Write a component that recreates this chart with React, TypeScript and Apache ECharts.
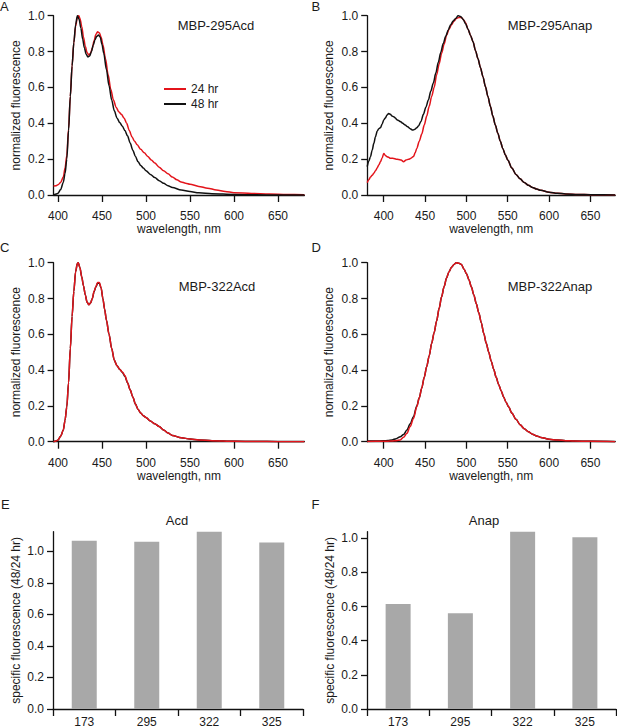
import React, { useEffect, useRef } from "react";
import * as echarts from "echarts";

const FONT = "'Liberation Sans', Arial, Helvetica, sans-serif";
const RED = "#e3141b";
const BLACK = "#111111";
const BAR = "#a8a8a8";
const TXT = "#1a1a1a";

const seriesNames = ["24 hr", "48 hr"];
const wavelengthTicks = [400, 450, 500, 550, 600, 650];
const fluorTicks = [0, 0.2, 0.4, 0.6, 0.8, 1.0];

// Panel A: MBP-295Acd
const wlA24 = [395,398,400,403,406,408,410,412,414,416,418,420,422,423.5,425,427,429,431,433,435,437,439,441,443,445,447,449,451,454,457,460,463,466,469,472,475,478,481,484,487,490,494,498,502,506,510,515,520,525,530,535,540,545,550,560,570,580,590,600,620,640,660,680];
const a24 = [0.05,0.052,0.057,0.07,0.1,0.15,0.22,0.37,0.55,0.72,0.85,0.94,0.99,1.0,0.985,0.94,0.88,0.83,0.795,0.78,0.79,0.82,0.86,0.895,0.91,0.905,0.88,0.84,0.76,0.67,0.59,0.53,0.49,0.465,0.45,0.43,0.4,0.36,0.325,0.3,0.28,0.255,0.235,0.215,0.195,0.178,0.155,0.135,0.118,0.1,0.085,0.073,0.066,0.06,0.048,0.038,0.028,0.02,0.013,0.009,0.005,0.003,0.002];
const wlA48 = [395,398,400,403,406,408,410,412,414,416,418,420,422,424,426,428,430,432,434,436,438,440,442,444,446,448,450,452,455,458,461,464,467,470,473,476,479,482,485,488,491,494,497,500,505,510,515,520,525,530,540,550,560,575,600,625,650,680];
const a48 = [0,0.005,0.01,0.03,0.07,0.12,0.2,0.36,0.55,0.72,0.85,0.95,1.0,0.98,0.93,0.87,0.82,0.785,0.77,0.775,0.8,0.835,0.865,0.885,0.892,0.88,0.84,0.79,0.7,0.61,0.53,0.47,0.43,0.405,0.385,0.36,0.33,0.29,0.25,0.215,0.185,0.165,0.15,0.135,0.115,0.097,0.08,0.065,0.052,0.042,0.028,0.019,0.012,0.007,0.003,0.001,0,0];

// Panel B: MBP-295Anap
const wlB24 = [380,382,384,386,388,390,392,394,396,398,400,402,404,406,408,410,412,415,418,421,424,427,430,433,436,438,440,443,446,449,452,455,458,461,464,467,470,473,476,479,482,485,488,491,494,497,499,502,505,508,511,514,517,520,523,526,529,532,535,538,541,544,547,550,555,560,565,570,575,580,585,590,600,610,620,635,650,665,680];
const b24 = [0.069,0.085,0.1,0.11,0.121,0.135,0.15,0.167,0.185,0.205,0.232,0.22,0.214,0.21,0.205,0.205,0.204,0.2,0.198,0.195,0.186,0.195,0.199,0.205,0.215,0.235,0.26,0.3,0.34,0.39,0.44,0.495,0.55,0.6,0.67,0.73,0.79,0.84,0.89,0.925,0.95,0.97,0.985,0.99,0.99,0.975,0.96,0.925,0.89,0.855,0.805,0.76,0.71,0.66,0.605,0.55,0.495,0.44,0.39,0.345,0.3,0.26,0.225,0.195,0.15,0.115,0.09,0.07,0.054,0.042,0.033,0.026,0.016,0.01,0.006,0.003,0.002,0.001,0];
const wlB48 = [380,382,384,386,388,390,392,394,396,398,400,402,404,406,408,410,412,414,416,418,420,423,426,429,432,435,437,440,442,445,448,451,454,457,460,463,466,469,472,475,478,481,484,487,490,493,496,499,502,505,508,511,514,517,520,523,526,529,532,535,538,541,544,547,550,555,560,565,570,575,580,585,590,600,610,620,635,650,665,680];
const b48 = [0.158,0.19,0.214,0.25,0.288,0.325,0.355,0.37,0.375,0.395,0.418,0.43,0.446,0.455,0.45,0.44,0.437,0.43,0.42,0.415,0.41,0.4,0.39,0.38,0.37,0.362,0.365,0.375,0.385,0.41,0.45,0.49,0.53,0.58,0.625,0.68,0.74,0.795,0.845,0.885,0.92,0.95,0.97,0.985,1.0,0.995,0.98,0.955,0.925,0.89,0.855,0.805,0.76,0.71,0.66,0.605,0.55,0.495,0.44,0.39,0.345,0.3,0.26,0.225,0.195,0.15,0.115,0.09,0.07,0.054,0.042,0.033,0.026,0.016,0.01,0.006,0.003,0.002,0.001,0];

// Panel C: MBP-322Acd
const wlC = [395,398,400,403,406,408,410,412,414,416,418,420,422,423,425,427,429,431,433,435,437,439,441,443,445,447,449,451,453,455,458,461,464,467,470,473,476,479,482,485,488,491,494,497,500,505,510,515,520,525,530,540,550,560,575,600,625,650,680];
const c24 = [0,0.004,0.01,0.03,0.065,0.12,0.195,0.33,0.52,0.7,0.84,0.95,0.995,1.0,0.97,0.92,0.87,0.82,0.78,0.765,0.775,0.8,0.84,0.866,0.89,0.89,0.86,0.8,0.74,0.68,0.6,0.52,0.455,0.425,0.405,0.39,0.37,0.33,0.29,0.25,0.21,0.18,0.16,0.145,0.135,0.115,0.1,0.085,0.065,0.048,0.035,0.022,0.015,0.01,0.006,0.002,0.001,0,0];
const c48 = [0,0.004,0.01,0.03,0.065,0.12,0.195,0.33,0.52,0.7,0.84,0.95,0.995,1.0,0.97,0.92,0.87,0.82,0.78,0.765,0.775,0.8,0.838,0.864,0.885,0.885,0.858,0.8,0.74,0.68,0.6,0.52,0.455,0.425,0.405,0.388,0.365,0.33,0.29,0.25,0.21,0.18,0.16,0.145,0.135,0.115,0.1,0.085,0.065,0.048,0.035,0.022,0.015,0.01,0.006,0.002,0.001,0,0];

// Panel D: MBP-322Anap
const wlD = [380,390,400,405,410,415,420,424,428,432,436,440,443,446,449,452,455,458,461,464,467,470,473,476,479,482,485,488,491,494,497,500,503,506,509,512,515,518,521,524,527,530,533,536,539,542,545,548,551,555,560,565,570,575,580,585,590,600,610,620,630,650,680];
const d24 = [0.001,0.002,0.003,0.003,0.004,0.006,0.01,0.025,0.047,0.085,0.13,0.195,0.245,0.3,0.36,0.42,0.48,0.55,0.61,0.675,0.745,0.81,0.865,0.915,0.95,0.975,0.99,1.0,0.997,0.99,0.965,0.94,0.905,0.865,0.82,0.77,0.72,0.665,0.605,0.55,0.5,0.45,0.405,0.36,0.32,0.285,0.25,0.22,0.195,0.16,0.125,0.095,0.072,0.055,0.042,0.032,0.024,0.014,0.009,0.006,0.004,0.002,0];
const d48 = [0.004,0.004,0.005,0.007,0.01,0.017,0.028,0.04,0.065,0.1,0.14,0.2,0.245,0.3,0.36,0.42,0.48,0.55,0.61,0.675,0.745,0.81,0.865,0.915,0.95,0.975,0.99,1.0,0.997,0.99,0.965,0.94,0.905,0.865,0.82,0.77,0.72,0.665,0.605,0.55,0.5,0.45,0.405,0.36,0.32,0.285,0.25,0.22,0.195,0.16,0.125,0.095,0.072,0.055,0.042,0.032,0.024,0.014,0.009,0.006,0.004,0.002,0];

// Panels E, F: specific fluorescence ratio (48/24 hr)
const sites = ["173", "295", "322", "325"];
const acdRatio = [1.067, 1.061, 1.125, 1.057];
const anapRatio = [0.614, 0.56, 1.038, 1.006];

const pts = (xs: number[], ys: number[]) => xs.map((x, i) => [x, ys[i]]);

const baseText = { fontFamily: FONT, color: TXT, fontSize: 12 };
const AXW = 1.3;

function lineX(gridIndex: number, min: number, max: number) {
  return {
    gridIndex, type: "value", min, max,
    axisLine: { show: true, onZero: false, lineStyle: { color: BLACK, width: AXW } },
    axisTick: { show: true, length: 7, customValues: wavelengthTicks, lineStyle: { color: BLACK, width: AXW } },
    axisLabel: { customValues: wavelengthTicks, margin: 15, ...baseText },
    splitLine: { show: false },
    name: "wavelength, nm", nameLocation: "middle", nameGap: 27,
    nameTextStyle: { ...baseText },
  };
}
function lineY(gridIndex: number) {
  return {
    gridIndex, type: "value", min: 0, max: 1, interval: 0.2,
    axisLine: { show: true, onZero: false, lineStyle: { color: BLACK, width: AXW } },
    axisTick: { show: true, length: 6, lineStyle: { color: BLACK, width: AXW } },
    axisLabel: { margin: 9, formatter: (v: number) => v.toFixed(1), ...baseText },
    splitLine: { show: false },
    name: "normalized fluorescence", nameLocation: "middle", nameGap: 32,
    nameTextStyle: { ...baseText },
  };
}
function barX(gridIndex: number) {
  return {
    gridIndex, type: "category", data: sites,
    axisLine: { show: true, lineStyle: { color: BLACK, width: AXW } },
    axisTick: { show: true, length: 7, lineStyle: { color: BLACK, width: AXW } },
    axisLabel: { margin: 7, ...baseText },
  };
}
function barY(gridIndex: number) {
  return {
    gridIndex, type: "value", min: 0, max: "dataMax",
    axisLine: { show: true, onZero: false, lineStyle: { color: BLACK, width: AXW } },
    axisTick: { show: true, length: 6, customValues: fluorTicks, lineStyle: { color: BLACK, width: AXW } },
    axisLabel: { margin: 9, customValues: fluorTicks, formatter: (v: number) => v.toFixed(1), ...baseText },
    splitLine: { show: false },
    name: "specific fluorescence (48/24 hr)", nameLocation: "middle", nameGap: 31,
    nameTextStyle: { ...baseText },
  };
}
function line(name: string, idx: number, data: number[][], color: string, z: number) {
  return {
    type: "line", name, xAxisIndex: idx, yAxisIndex: idx, data,
    showSymbol: false, symbol: "none", smooth: 0.3, smoothMonotone: "x",
    lineStyle: { color, width: 1.5 }, itemStyle: { color }, z,
  };
}
function label(text: string, x: number, y: number, size: number, align = "center") {
  return {
    type: "text", x, y, silent: true,
    style: { text, fontSize: size, fontFamily: FONT, fill: TXT, align, verticalAlign: "middle" },
  };
}

export default function App() {
  const ref = useRef<HTMLDivElement>(null);
  useEffect(() => {
    if (!ref.current) return;
    const chart = echarts.init(ref.current, null, { renderer: "svg" });
    chart.setOption({
      animation: false,
      backgroundColor: "#ffffff",
      textStyle: { fontFamily: FONT },
      grid: [
        { left: 53.6, top: 15.7, width: 250.8, height: 179.3 },
        { left: 367.2, top: 15.7, width: 248, height: 179.3 },
        { left: 53.6, top: 262.7, width: 250.8, height: 179 },
        { left: 367.2, top: 262.7, width: 248, height: 179 },
        { left: 53, top: 531.7, width: 250, height: 179.3 },
        { left: 367, top: 531.7, width: 249, height: 179.3 },
      ],
      xAxis: [lineX(0, 395, 680), lineX(1, 380, 680), lineX(2, 395, 680), lineX(3, 380, 680), barX(4), barX(5)],
      yAxis: [lineY(0), lineY(1), lineY(2), lineY(3), barY(4), barY(5)],
      legend: {
        data: seriesNames, orient: "vertical", left: 164, top: 81.5, padding: 0,
        icon: "rect", itemWidth: 22, itemHeight: 2, itemGap: 0, selectedMode: false,
        textStyle: { ...baseText, lineHeight: 15 },
      },
      series: [
        line(seriesNames[0], 0, pts(wlA24, a24), RED, 2),
        line(seriesNames[1], 0, pts(wlA48, a48), BLACK, 3),
        line(seriesNames[0], 1, pts(wlB24, b24), RED, 2),
        line(seriesNames[1], 1, pts(wlB48, b48), BLACK, 3),
        line(seriesNames[1], 2, pts(wlC, c48), BLACK, 2),
        line(seriesNames[0], 2, pts(wlC, c24), RED, 3),
        line(seriesNames[1], 3, pts(wlD, d48), BLACK, 2),
        line(seriesNames[0], 3, pts(wlD, d24), RED, 3),
        { type: "bar", name: "Acd", xAxisIndex: 4, yAxisIndex: 4, data: acdRatio, barWidth: 25, itemStyle: { color: BAR } },
        { type: "bar", name: "Anap", xAxisIndex: 5, yAxisIndex: 5, data: anapRatio, barWidth: 25, itemStyle: { color: BAR } },
      ],
      graphic: [
        label("A", 0, 6.5, 13, "left"),
        label("B", 311.5, 6.5, 13, "left"),
        label("C", 0, 247.5, 13, "left"),
        label("D", 311.5, 247.5, 13, "left"),
        label("E", 1, 504, 13, "left"),
        label("F", 311.5, 504, 13, "left"),
        label("MBP-295Acd", 216, 25, 13),
        label("MBP-295Anap", 550, 25, 13),
        label("MBP-322Acd", 217, 286.7, 13),
        label("MBP-322Anap", 550, 286.7, 13),
        label("Acd", 177, 520, 13),
        label("Anap", 484, 520, 13),
      ],
    });
    return () => chart.dispose();
  }, []);
  return (
    <div
      ref={ref}
      style={{ position: "fixed", left: 0, top: 0, width: 617, height: 728, background: "#fff" }}
    />
  );
}
